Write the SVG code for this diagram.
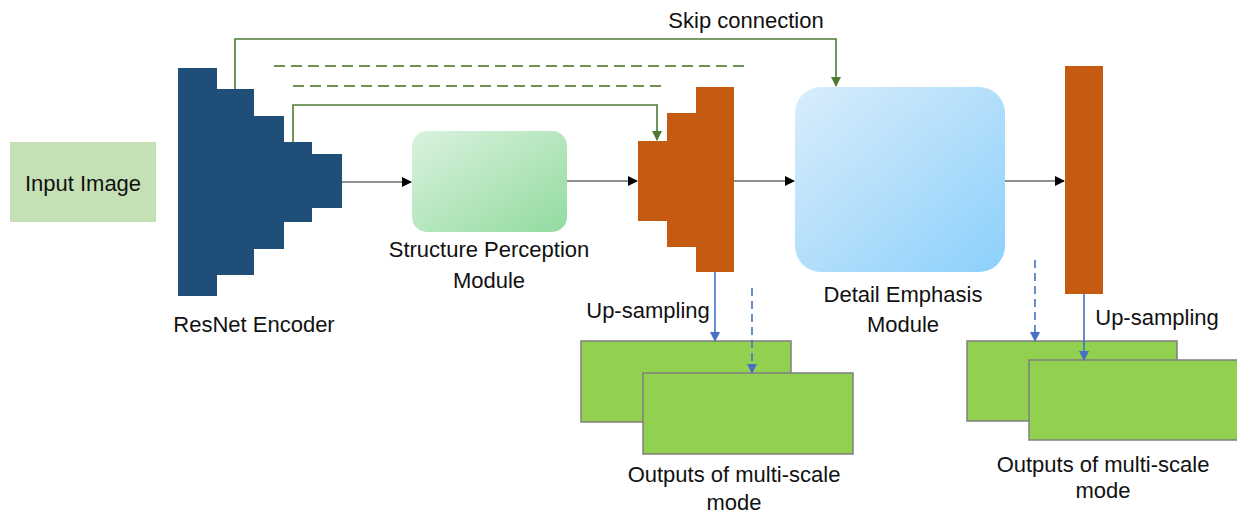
<svg xmlns="http://www.w3.org/2000/svg" width="1237" height="514" viewBox="0 0 1237 514">
<style>
.t{font-family:"Liberation Sans",Arial,sans-serif;font-size:22px;fill:#111;}
.enc{fill:#1f4e79;}
.dec{fill:#c55a11;}
.out{fill:#92d050;stroke:#7f7f7f;stroke-width:1.5;}
.blk{stroke:#222;stroke-width:1.2;fill:none;marker-end:url(#ab);}
.skip{stroke:#4f7a34;stroke-width:1.6;fill:none;}
.dash{stroke:#6f8f55;stroke-width:2;stroke-dasharray:11 6;fill:none;}
.blue{stroke:#4472c4;stroke-width:1.6;fill:none;marker-end:url(#abl);}
.bluedash{stroke:#4472c4;stroke-width:1.6;fill:none;stroke-dasharray:8 5;marker-end:url(#abl);}
</style>
<defs>
<marker id="ab" markerWidth="10" markerHeight="10" refX="9" refY="5" orient="auto" markerUnits="userSpaceOnUse"><path d="M0,0 L10,5 L0,10 z" fill="#000"/></marker>
<marker id="ag" markerWidth="10" markerHeight="10" refX="9" refY="5" orient="auto" markerUnits="userSpaceOnUse"><path d="M0,0 L10,5 L0,10 z" fill="#4f7a34"/></marker>
<marker id="abl" markerWidth="10" markerHeight="10" refX="9" refY="5" orient="auto" markerUnits="userSpaceOnUse"><path d="M0,0 L10,5 L0,10 z" fill="#4472c4"/></marker>
<linearGradient id="gg" x1="0" y1="0" x2="1" y2="1"><stop offset="0" stop-color="#dbf2de"/><stop offset="1" stop-color="#92dba0"/></linearGradient>
<linearGradient id="gb" x1="0" y1="0" x2="1" y2="1"><stop offset="0" stop-color="#d9edfb"/><stop offset="1" stop-color="#8cd0fb"/></linearGradient>
</defs>
<rect width="1237" height="514" fill="#fff"/>

<g id="input-image">
<rect x="10" y="142" width="146" height="80" fill="#c5e0b4"/>
<text class="t" x="83" y="191" text-anchor="middle">Input Image</text>
</g>

<g id="resnet-encoder">
<path class="enc" d="M178,68 H217 V89 H254 V116 H284 V142 H312 V154 H342 V208 H312 V222 H284 V249 H254 V275 H217 V296 H178 Z"/>
<text class="t" x="254" y="332" text-anchor="middle">ResNet Encoder</text>
</g>

<g id="structure-perception">
<rect x="412" y="131" width="155" height="101" rx="15" fill="url(#gg)"/>
<text class="t" x="489" y="257" text-anchor="middle">Structure Perception</text>
<text class="t" x="489" y="288" text-anchor="middle">Module</text>
</g>

<g id="decoder-1">
<path class="dec" d="M638,141 H667 V113 H696 V87 H734 V272 H696 V247 H667 V221 H638 Z"/>
</g>

<g id="detail-emphasis">
<rect x="795" y="87" width="210" height="185" rx="26" fill="url(#gb)"/>
<text class="t" x="903" y="302" text-anchor="middle">Detail Emphasis</text>
<text class="t" x="903" y="332" text-anchor="middle">Module</text>
</g>

<g id="decoder-2">
<rect class="dec" x="1065" y="66" width="38" height="228"/>
</g>

<g id="outputs-left">
<text class="t" x="648" y="318" text-anchor="middle">Up-sampling</text>
<rect class="out" x="581" y="341" width="210" height="81"/>
<rect class="out" x="643" y="373" width="210" height="81"/>
<text class="t" x="734" y="482" text-anchor="middle">Outputs of multi-scale</text>
<text class="t" x="734" y="510" text-anchor="middle">mode</text>
</g>

<g id="outputs-right">
<text class="t" x="1157" y="325" text-anchor="middle">Up-sampling</text>
<rect class="out" x="967" y="341" width="210" height="80"/>
<rect class="out" x="1029" y="360" width="210" height="80"/>
<text class="t" x="1103" y="472" text-anchor="middle">Outputs of multi-scale</text>
<text class="t" x="1103" y="498" text-anchor="middle">mode</text>
</g>

<g id="skip-label">
<text class="t" x="746" y="28" text-anchor="middle">Skip connection</text>
</g>

<g id="connectors">
<path class="skip" d="M235,89 V39 H836 V86" marker-end="url(#ag)"/>
<path class="skip" d="M293,142 V105 H657 V140" marker-end="url(#ag)"/>
<path class="dash" d="M274,66 H748"/>
<path class="dash" d="M293,86 H666"/>
<path class="blk" d="M342,182 H411"/>
<path class="blk" d="M567,181 H637"/>
<path class="blk" d="M734,181 H794"/>
<path class="blk" d="M1005,181 H1064"/>
<path class="blue" d="M715,272 V341"/>
<path class="bluedash" d="M752,288 V373"/>
<path class="blue" d="M1084,294 V360"/>
<path class="bluedash" d="M1035,260 V341"/>
</g>
</svg>
